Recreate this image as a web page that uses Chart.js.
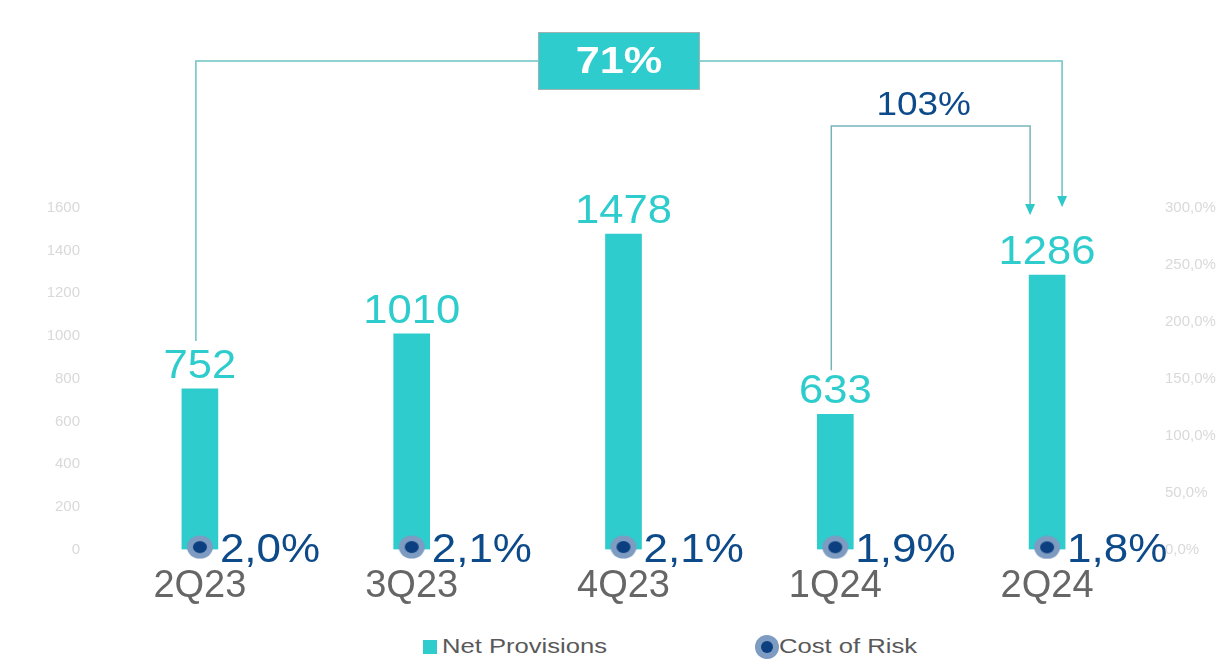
<!DOCTYPE html>
<html>
<head>
<meta charset="utf-8">
<script src="https://cdn.jsdelivr.net/npm/chart.js@4"></script>
<style>
  html, body { margin: 0; padding: 0; background: #fff; }
  #wrap { position: relative; width: 1232px; height: 659px; font-family: 'Liberation Sans', Arial, sans-serif; }
  #legend { position: absolute; top: 634px; left: 0; width: 1232px; height: 24px; color: #595959; font-size: 20px; }
  .item { position: absolute; top: 0; line-height: 24px; white-space: nowrap; }
  .txt { display: inline-block; transform: scaleX(1.28); transform-origin: left center; }
  .sq { display: inline-block; width: 14px; height: 14px; background: #2ecccc; margin-right: 5px; vertical-align: -1px; }
  .dot { display: inline-block; width: 24px; height: 24px; border-radius: 50%; background: #7e9bc2; vertical-align: -6px; position: relative; margin-right: 0px; }
  .dot::after { content: ''; position: absolute; left: 6px; top: 6px; width: 12px; height: 12px; border-radius: 50%; background: #0b3f7f; }
</style>
</head>
<body>
<div id="wrap">
  <canvas id="chart" width="1232" height="615"></canvas>
  <div id="legend">
    <span class="item" style="left:423px"><span class="sq"></span><span class="txt">Net Provisions</span></span>
    <span class="item" style="left:755px"><span class="dot"></span><span class="txt">Cost of Risk</span></span>
  </div>
</div>
<script>
// quarters
const categories = ['2Q23', '3Q23', '4Q23', '1Q24', '2Q24'];
// net provisions (left axis)
const netProvisions = [752, 1010, 1478, 633, 1286];
// cost of risk in % (right axis)
const costOfRisk = [2.0, 2.1, 2.1, 1.9, 1.8];
// axis ranges
const leftMax = 1600, leftStep = 200;
const rightMax = 300, rightStep = 50;
// growth brackets: from index -> to index
const growthFrom = [0, 3];
const growthTo = [4, 4];
const growthLabels = ['71%', '103%'];

const TEAL = '#2ecccc';
const NAVY = '#0d4a8a';
const FONT = "'Liberation Sans', Arial, sans-serif";

// double circle marker for cost of risk (slightly wide, like the original)
const marker = document.createElement('canvas');
marker.width = 28; marker.height = 24;
(function () {
  const c = marker.getContext('2d');
  c.fillStyle = '#7e9bc2';
  c.beginPath(); c.ellipse(14, 12, 13, 11.5, 0, 0, Math.PI * 2); c.fill();
  c.fillStyle = '#0b3f7f';
  c.beginPath(); c.ellipse(14, 12, 7, 6, 0, 0, Math.PI * 2); c.fill();
})();

// text drawn a bit wider than the font, the source picture is stretched
function wideText(ctx, text, x, y, sx) {
  ctx.save();
  ctx.translate(x, y);
  ctx.scale(sx, 1);
  ctx.fillText(text, 0, 0);
  ctx.restore();
}

const labelsPlugin = {
  id: 'labels',
  afterDatasetsDraw(chart) {
    const ctx = chart.ctx;
    ctx.save();
    ctx.font = '40px ' + FONT;
    ctx.textAlign = 'center';
    ctx.textBaseline = 'alphabetic';
    ctx.fillStyle = TEAL;
    chart.getDatasetMeta(1).data.forEach((bar, i) => {
      wideText(ctx, String(netProvisions[i]), bar.x, bar.y - 11, 1.09);
    });
    ctx.fillStyle = NAVY;
    ctx.textAlign = 'left';
    ctx.textBaseline = 'middle';
    chart.getDatasetMeta(0).data.forEach((pt, i) => {
      wideText(ctx, costOfRisk[i].toFixed(1).replace('.', ',') + '%', pt.x + 20, chart.scales.y.getPixelForValue(0) + 2, 1.1);
    });
    ctx.restore();
  }
};

function arrow(ctx, x, y) {
  ctx.beginPath();
  ctx.moveTo(x - 5, y - 11);
  ctx.lineTo(x + 5, y - 11);
  ctx.lineTo(x, y);
  ctx.closePath();
  ctx.fill();
}

const bracketPlugin = {
  id: 'brackets',
  afterDraw(chart) {
    const ctx = chart.ctx;
    const xs = chart.scales.x, ys = chart.scales.y;
    const top = chart.chartArea.top;
    ctx.save();
    ctx.lineWidth = 1.5;
    ctx.strokeStyle = '#6cc3c4';
    ctx.fillStyle = '#2ec8c8';

    // 71% bracket
    let x1 = xs.getPixelForValue(growthFrom[0]) - 4;
    let x2 = xs.getPixelForValue(growthTo[0]) + 15;
    let yb = ys.getPixelForValue(netProvisions[growthFrom[0]]) - 48;
    let yt = 61;
    ctx.beginPath();
    ctx.moveTo(x1, yb); ctx.lineTo(x1, yt); ctx.lineTo(x2, yt); ctx.lineTo(x2, top - 10);
    ctx.stroke();
    arrow(ctx, x2, top - 1);
    const bx = (x1 + x2) / 2 - 10;
    ctx.fillStyle = TEAL;
    ctx.fillRect(bx - 81, 32, 162, 58);
    ctx.strokeStyle = '#9fb3b3';
    ctx.lineWidth = 1;
    ctx.strokeRect(bx - 81 + 0.5, 32.5, 161, 57);
    ctx.fillStyle = '#fff';
    ctx.font = 'bold 37px ' + FONT;
    ctx.textAlign = 'center';
    ctx.textBaseline = 'middle';
    wideText(ctx, growthLabels[0], bx, 63, 1.17);

    // 103% bracket
    ctx.strokeStyle = '#78b4b6';
    ctx.lineWidth = 1.5;
    ctx.fillStyle = '#2ec8c8';
    x1 = xs.getPixelForValue(growthFrom[1]) - 4;
    x2 = xs.getPixelForValue(growthTo[1]) - 17;
    yb = ys.getPixelForValue(netProvisions[growthFrom[1]]) - 44;
    yt = 126;
    ctx.beginPath();
    ctx.moveTo(x1, yb); ctx.lineTo(x1, yt); ctx.lineTo(x2, yt); ctx.lineTo(x2, top - 3);
    ctx.stroke();
    arrow(ctx, x2, top + 7);
    ctx.fillStyle = NAVY;
    ctx.font = '33px ' + FONT;
    wideText(ctx, growthLabels[1], (x1 + x2) / 2 - 7, 106, 1.12);
    ctx.restore();
  }
};

new Chart(document.getElementById('chart'), {
  data: {
    labels: categories,
    datasets: [
      {
        type: 'line',
        label: 'Cost of Risk',
        data: costOfRisk,
        yAxisID: 'y1',
        showLine: false,
        pointStyle: marker,
        clip: false,
        order: 0
      },
      {
        type: 'bar',
        label: 'Net Provisions',
        data: netProvisions,
        yAxisID: 'y',
        backgroundColor: TEAL,
        barThickness: 36,
        order: 1
      }
    ]
  },
  options: {
    responsive: false,
    animation: false,
    layout: { padding: { top: 208, bottom: 0, left: 0, right: 0 } },
    plugins: {
      legend: { display: false },
      tooltip: { enabled: false }
    },
    scales: {
      x: {
        grid: { display: false },
        border: { display: false },
        ticks: { color: '#666', font: { family: FONT, size: 38 }, padding: 6 }
      },
      y: {
        position: 'left',
        min: 0, max: leftMax,
        grid: { display: false },
        border: { display: false },
        ticks: {
          stepSize: leftStep, color: '#d9d9d9', font: { family: FONT, size: 15 }, padding: 6,
          callback: v => String(v)
        },
        afterFit(s) { s.width = 94; }
      },
      y1: {
        position: 'right',
        min: 0, max: rightMax,
        grid: { display: false },
        border: { display: false },
        ticks: {
          stepSize: rightStep, color: '#d9d9d9', font: { family: FONT, size: 15 }, padding: 4,
          callback: v => v.toFixed(1).replace('.', ',') + '%'
        },
        afterFit(s) { s.width = 79; }
      }
    }
  },
  plugins: [labelsPlugin, bracketPlugin]
});
</script>
</body>
</html>
